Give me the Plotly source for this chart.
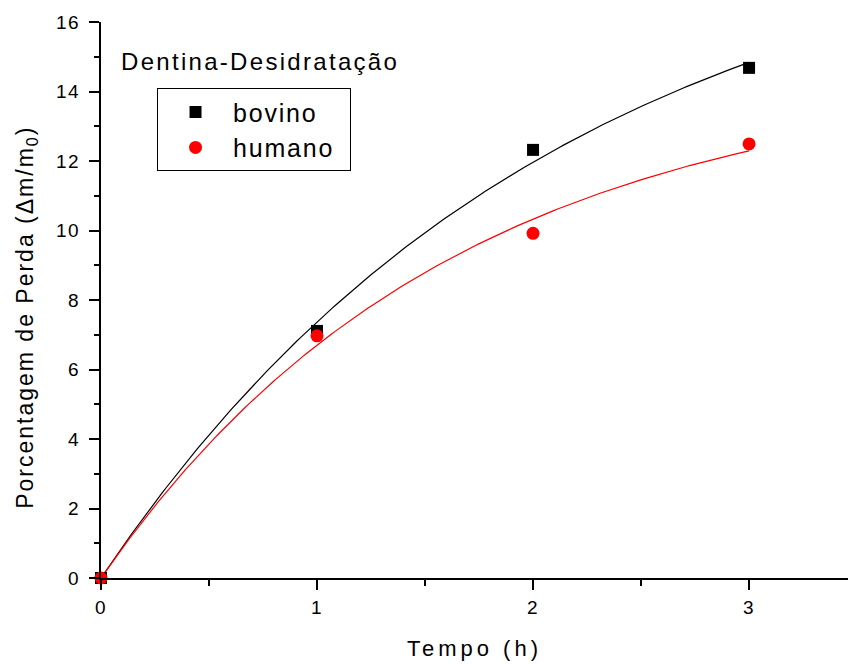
import numpy as np
import plotly.graph_objects as go

# Measured weight loss over time (dentin dehydration)
tempo = [0, 1, 2, 3]
bovino = [0.0, 7.11, 12.32, 14.68]
humano = [0.0, 6.97, 9.92, 12.49]

FONT = "Liberation Sans, Arial, sans-serif"
NBSP = "\u00a0"


def exp_assoc_fit(x, y):
    """Least-squares fit of y = A*(1 - exp(-x/t)); returns (A, t)."""
    x = np.asarray(x, float)
    y = np.asarray(y, float)
    best = None
    for t in np.linspace(0.3, 10, 20000):
        f = 1 - np.exp(-x / t)
        a = (f @ y) / (f @ f)
        sse = np.sum((y - a * f) ** 2)
        if best is None or sse < best[0]:
            best = (sse, a, t)
    return best[1], best[2]


series = [
    ("bovino", bovino, "black", "square", 12),
    ("humano", humano, "#ff0000", "circle", 13),
]

xs = np.linspace(0, 3, 200)
fig = go.Figure()

# fitted curves first, points on top
for name, ys, color, symbol, size in series:
    a, t = exp_assoc_fit(tempo, ys)
    fig.add_trace(go.Scatter(
        x=xs, y=a * (1 - np.exp(-xs / t)), mode="lines",
        line=dict(color=color, width=1.2), showlegend=False, hoverinfo="skip",
    ))

for name, ys, color, symbol, size in series:
    fig.add_trace(go.Scatter(
        x=tempo, y=ys, mode="markers", name=name + NBSP * 3,
        marker=dict(color=color, symbol=symbol, size=size, line=dict(width=0)),
        cliponaxis=False,
    ))

fig.update_layout(
    width=848, height=666,
    margin=dict(l=101, r=0, t=22, b=88),
    paper_bgcolor="white", plot_bgcolor="white",
    font=dict(family=FONT, color="black", size=19),
    legend=dict(
        x=0.075, y=0.881, xanchor="left", yanchor="top",
        bordercolor="black", borderwidth=1, bgcolor="white",
        font=dict(size=25, family=FONT), itemwidth=65,
        tracegroupgap=0,
    ),
    annotations=[
        dict(
            text="Dentina-Desidratação", xref="paper", yref="paper",
            x=0.055, y=0.929, xanchor="left", yanchor="middle",
            showarrow=False, font=dict(size=24, family=FONT),
        ),
        dict(
            text="Porcentagem de Perda (Δm/m<sub>0</sub>)", xref="paper", yref="paper",
            x=-0.099, y=0.468, xanchor="center", yanchor="middle", textangle=-90,
            showarrow=False, font=dict(size=23, family=FONT),
        ),
    ],
)

fig.update_xaxes(
    range=[0, 3.458], showgrid=False, zeroline=False,
    showline=True, linecolor="black", linewidth=2,
    tickmode="array", tickvals=[0, 1, 2, 3],
    ticks="outside", ticklen=10, tickwidth=2, tickcolor="black",
    minor=dict(dtick=0.5, ticks="outside", ticklen=6, tickwidth=2, tickcolor="black", showgrid=False),
    tickfont=dict(size=19), ticklabelstandoff=1,
    title=dict(text="Tempo (h)", font=dict(size=22), standoff=24),
)
fig.update_yaxes(
    range=[0, 16], showgrid=False, zeroline=False,
    showline=True, linecolor="black", linewidth=2,
    dtick=2, ticks="outside", ticklen=10, tickwidth=2, tickcolor="black",
    minor=dict(dtick=1, ticks="outside", ticklen=5, tickwidth=2, tickcolor="black", showgrid=False),
    tickfont=dict(size=19), ticklabelstandoff=5,
)

# wider letter spacing for the labels
css = (
    ".annotation[data-index=\"0\"] text{letter-spacing:2.3px}"
    ".annotation[data-index=\"1\"] text{letter-spacing:2px}"
    ".legendtext{letter-spacing:1.8px}"
    ".xtitle{letter-spacing:4px}"
    ".xtick text,.ytick text{letter-spacing:1.5px}"
)
post = (
    "var st=document.createElement('style');"
    f"st.textContent='{css}';"
    "document.head.appendChild(st);"
)

fig.write_html("out.html", post_script=post)
